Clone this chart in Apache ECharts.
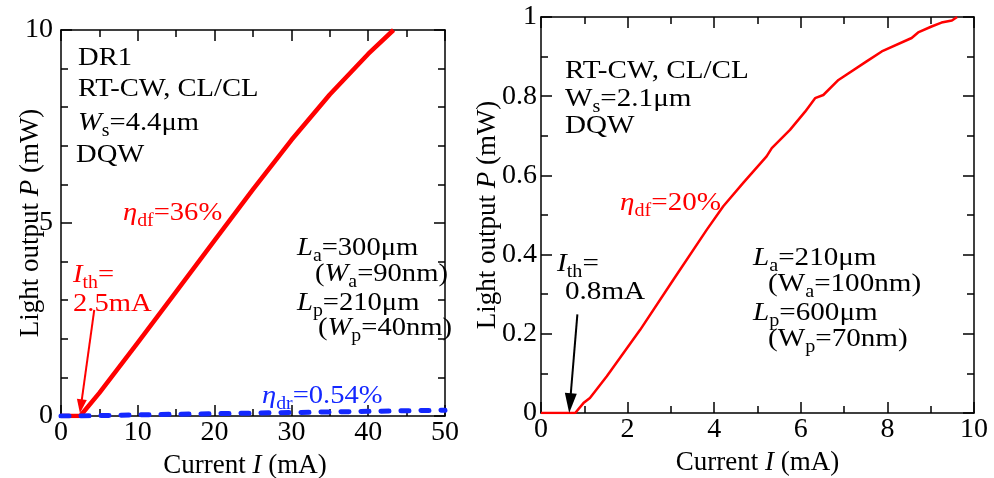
<!DOCTYPE html>
<html>
<head>
<meta charset="utf-8">
<title>Light output vs current</title>
<script src="https://cdn.jsdelivr.net/npm/echarts@6/dist/echarts.min.js"></script>
<style>
  html, body { margin: 0; padding: 0; background: #fff; }
  #chart { width: 994px; height: 478px; }
</style>
</head>
<body>
<div id="chart"></div>
<script>
// DR1 laser (left panel): front output (red) and rear output (blue dashed)
const drCurrent   = [0, 2.5, 5, 10, 15, 20, 25, 30, 35, 40, 43.3];
const drFront     = [0, 0, 0.6, 1.9, 3.22, 4.55, 5.87, 7.15, 8.33, 9.38, 10.0];
const drRearCurrent = [0, 2.5, 10, 20, 30, 40, 50];
const drRear        = [0, 0, 0.03, 0.06, 0.09, 0.12, 0.15];

// Second device (right panel): front output
const dqCurrent = [0, 0.79, 0.98, 1.13, 1.52, 2.29, 3.06, 3.83, 4.21, 4.67, 5.21, 5.33, 5.75,
                   6.10, 6.33, 6.52, 6.87, 7.52, 7.87, 8.56, 8.71, 9.02, 9.25, 9.49, 9.61];
const dqPower   = [0, 0, 0.025, 0.038, 0.093, 0.21, 0.337, 0.463, 0.522, 0.581, 0.648, 0.669, 0.715,
                   0.761, 0.795, 0.803, 0.841, 0.888, 0.913, 0.947, 0.961, 0.976, 0.986, 0.991, 1.0];

// Axis ranges and tick steps
const drXTicks = { min: 0, max: 50, interval: 10 };
const drYTicks = { min: 0, max: 10, interval: 5 };
const dqXTicks = { min: 0, max: 10, interval: 2 };
const dqYTicks = { min: 0, max: 1, interval: 0.2 };

const pairs = (xs, ys) => xs.map((x, i) => [x, ys[i]]);

const FONT = 'Liberation Serif';
const TICK_SIZE = 28;
const NAME_SIZE = 27;

function richFor(size) {
  return {
    n: { fontSize: size, fontFamily: FONT },
    i: { fontSize: size, fontFamily: FONT, fontStyle: 'italic' },
    s: { fontSize: Math.round(size * 0.68), fontFamily: FONT, padding: [16, 0, 0, 0] }
  };
}

function axisBase(range, gridIndex, position, showLabel, minorSplit, labelMargin) {
  return {
    type: 'value',
    gridIndex: gridIndex,
    position: position,
    min: range.min,
    max: range.max,
    interval: range.interval,
    nameMoveOverlap: false,
    axisLine: { show: true, onZero: false, lineStyle: { color: '#000', width: 1.5 } },
    axisTick: { show: true, inside: true, length: 11, lineStyle: { color: '#000', width: 1.5 } },
    minorTick: { show: true, splitNumber: minorSplit, length: 7, lineStyle: { color: '#000', width: 1.5 } },
    splitLine: { show: false },
    axisLabel: {
      show: showLabel, color: '#000', fontFamily: FONT, fontSize: TICK_SIZE,
      margin: labelMargin == null ? 3 : labelMargin
    }
  };
}

function xName(axis, shiftLeft) {
  axis.name = '{n|Current }{i|I}{n| (mA)}';
  axis.nameLocation = 'middle';
  axis.nameGap = 36;
  axis.nameTextStyle = { rich: richFor(NAME_SIZE), padding: [0, shiftLeft, 0, 0] };
  return axis;
}
function yName(axis, gap) {
  axis.name = '{n|Light output }{i|P}{n| (mW)}';
  axis.nameLocation = 'middle';
  axis.nameGap = gap;
  axis.nameTextStyle = { rich: richFor(NAME_SIZE) };
  return axis;
}

function label(x, y, text, color, size, stretch) {
  return {
    type: 'text',
    x: x, y: y,
    scaleX: stretch,
    silent: true,
    style: {
      text: text,
      fill: color,
      align: 'left',
      verticalAlign: 'middle',
      rich: richFor(size)
    }
  };
}

const chart = echarts.init(document.getElementById('chart'), null, { renderer: 'canvas' });

const option = {
  backgroundColor: '#fff',
  animation: false,
  grid: [
    { left: 61, top: 30, width: 384, height: 386, containLabel: false, outerBoundsMode: 'none' },
    { left: 541, top: 17, width: 433, height: 396, containLabel: false, outerBoundsMode: 'none' }
  ],
  xAxis: [
    xName(axisBase(drXTicks, 0, 'bottom', true, 2), 16),
    axisBase(drXTicks, 0, 'top', false, 2),
    xName(axisBase(dqXTicks, 1, 'bottom', true, 2), 0),
    axisBase(dqXTicks, 1, 'top', false, 2)
  ],
  yAxis: [
    yName(axisBase(drYTicks, 0, 'left', true, 5, 8), 17),
    axisBase(drYTicks, 0, 'right', false, 5),
    yName(axisBase(dqYTicks, 1, 'left', true, 2, 4), 40),
    axisBase(dqYTicks, 1, 'right', false, 2)
  ],
  series: [
    {
      name: 'DR1 front',
      type: 'line',
      xAxisIndex: 0, yAxisIndex: 0,
      data: pairs(drCurrent, drFront),
      showSymbol: false, symbol: 'none',
      lineStyle: { color: '#ff0000', width: 4.5, join: 'round' },
      markLine: {
        silent: true,
        symbol: ['none', 'triangle'],
        symbolSize: [10, 14],
        label: { show: false },
        lineStyle: { color: '#ff0000', width: 2, type: 'solid' },
        data: [[{ coord: [4.33, 2.75] }, { coord: [2.59, 0.25] }]]
      },
      z: 3
    },
    {
      name: 'DR1 rear',
      type: 'line',
      xAxisIndex: 0, yAxisIndex: 0,
      data: pairs(drRearCurrent, drRear),
      showSymbol: false, symbol: 'none',
      lineStyle: { color: '#1428ff', width: 5, type: [8, 12], cap: 'round' },
      z: 4
    },
    {
      name: 'Front',
      type: 'line',
      xAxisIndex: 2, yAxisIndex: 2,
      data: pairs(dqCurrent, dqPower),
      showSymbol: false, symbol: 'none',
      lineStyle: { color: '#ff0000', width: 2.5, join: 'round' },
      markLine: {
        silent: true,
        symbol: ['none', 'triangle'],
        symbolSize: [12, 20],
        label: { show: false },
        lineStyle: { color: '#000', width: 2, type: 'solid' },
        data: [[{ coord: [0.84, 0.249] }, { coord: [0.67, 0.025] }]]
      },
      z: 3
    }
  ],
  graphic: [
    // left panel notes
    label(78, 58, '{n|DR1}', '#000', 26, 1.1),
    label(78, 89, '{n|RT-CW, CL/CL}', '#000', 26, 1.1),
    label(78, 123, '{i|W}{s|s}{n|=4.4μm}', '#000', 26, 1.1),
    label(76, 155, '{n|DQW}', '#000', 26, 1.1),
    label(123, 213, '{i|η}{s|df}{n|=36%}', '#ff0000', 26, 1.1),
    label(73, 275, '{i|I}{s|th}{n|=}', '#ff0000', 26, 1.1),
    label(73, 304, '{n|2.5mA}', '#ff0000', 26, 1.1),
    label(297, 248, '{i|L}{s|a}{n|=300μm}', '#000', 26, 1.1),
    label(315, 274, '{n|(}{i|W}{s|a}{n|=90nm)}', '#000', 26, 1.1),
    label(297, 303, '{i|L}{s|p}{n|=210μm}', '#000', 26, 1.1),
    label(318, 328, '{n|(}{i|W}{s|p}{n|=40nm)}', '#000', 26, 1.1),
    label(262, 396, '{i|η}{s|dr}{n|=0.54%}', '#1428ff', 26, 1.1),
    // right panel notes
    label(565, 71, '{n|RT-CW, CL/CL}', '#000', 26, 1.12),
    label(565, 99, '{n|W}{s|s}{n|=2.1μm}', '#000', 26, 1.12),
    label(565, 126, '{n|DQW}', '#000', 26, 1.12),
    label(620, 203, '{i|η}{s|df}{n|=20%}', '#ff0000', 26, 1.12),
    label(557, 264, '{i|I}{s|th}{n|=}', '#000', 26, 1.12),
    label(565, 292, '{n|0.8mA}', '#000', 26, 1.12),
    label(753, 258, '{i|L}{s|a}{n|=210μm}', '#000', 26, 1.12),
    label(768, 284, '{n|(W}{s|a}{n|=100nm)}', '#000', 26, 1.12),
    label(753, 313, '{i|L}{s|p}{n|=600μm}', '#000', 26, 1.12),
    label(768, 339, '{n|(W}{s|p}{n|=70nm)}', '#000', 26, 1.12)
  ]
};

chart.setOption(option);
</script>
</body>
</html>
